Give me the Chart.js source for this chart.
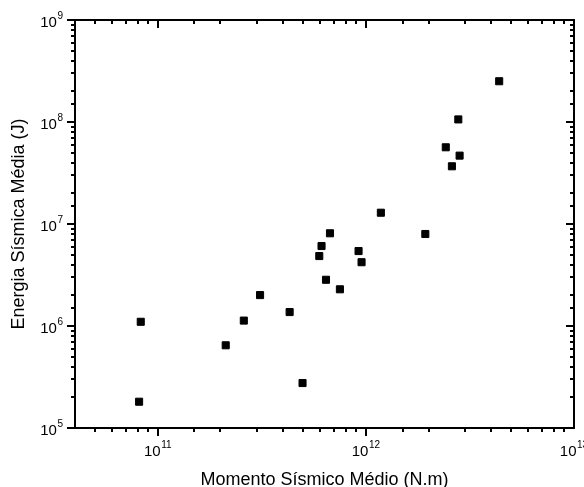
<!DOCTYPE html>
<html>
<head>
<meta charset="utf-8">
<script src="https://cdn.jsdelivr.net/npm/chart.js@4/dist/chart.umd.min.js"></script>
<style>
  body { margin: 0; background: #fff; }
  #chart { display: block; }
</style>
</head>
<body>
<canvas id="chart" width="584" height="487"></canvas>
<script>
// momento sismico medio (N.m)
var momento = [8.28e10, 8.13e10, 2.12e11, 2.59e11, 3.10e11, 4.30e11, 4.96e11,
               5.97e11, 6.12e11, 6.72e11, 6.43e11, 7.50e11, 9.22e11, 9.53e11,
               1.18e12, 1.93e12, 2.42e12, 2.59e12, 2.82e12, 2.78e12, 4.37e12];
// energia sismica media (J)
var energia = [1.10e6, 1.81e5, 6.47e5, 1.13e6, 2.01e6, 1.37e6, 2.76e5,
               4.85e6, 6.08e6, 8.11e6, 2.84e6, 2.29e6, 5.43e6, 4.22e6,
               1.29e7, 7.98e6, 5.65e7, 3.68e7, 4.68e7, 1.06e8, 2.51e8];

var xLimits = [4e10, 1e13];
var yLimits = [1e5, 1e9];
var xTitle = 'Momento Sísmico Médio (N.m)';
var yTitle = 'Energia Sísmica Média (J)';

var FONT = 'Liberation Sans, Arial, sans-serif';

function isDecade(v) {
  var l = Math.log10(v);
  return Math.abs(l - Math.round(l)) < 1e-9;
}

var points = [];
for (var i = 0; i < momento.length; i++) {
  points.push({x: momento[i], y: energia[i]});
}

// draws 10 with a raised exponent, left edge at x0
function drawPow(ctx, v, x0, base) {
  var e = String(Math.round(Math.log10(v)));
  ctx.font = '15px ' + FONT;
  var w1 = ctx.measureText('10').width;
  ctx.fillText('10', x0, base);
  ctx.font = '10px ' + FONT;
  ctx.fillText(e, x0 + w1 + 0.5, base - 8);
}
function powWidth(ctx, v) {
  var e = String(Math.round(Math.log10(v)));
  ctx.font = '15px ' + FONT;
  var w = ctx.measureText('10').width + 0.5;
  ctx.font = '10px ' + FONT;
  return w + ctx.measureText(e).width;
}

// frame with ticks on all four sides plus the power-of-ten labels
var frameTicks = {
  id: 'frameTicks',
  afterDraw: function(chart) {
    var ctx = chart.ctx, a = chart.chartArea;
    var sx = chart.scales.x, sy = chart.scales.y;
    ctx.save();
    ctx.strokeStyle = '#000';
    ctx.lineWidth = 2;
    ctx.beginPath();
    sx.ticks.forEach(function(t) {
      var px = Math.round(sx.getPixelForValue(t.value));
      if (px <= a.left + 1 || px >= a.right - 1) return;
      var len = isDecade(t.value) ? 8 : 4;
      ctx.moveTo(px, a.bottom); ctx.lineTo(px, a.bottom + len);
      ctx.moveTo(px, a.top); ctx.lineTo(px, a.top + len);
    });
    sy.ticks.forEach(function(t) {
      var py = Math.round(sy.getPixelForValue(t.value));
      var len = isDecade(t.value) ? 8 : 4;
      ctx.moveTo(a.left, py); ctx.lineTo(a.left - len, py);
      ctx.moveTo(a.right, py); ctx.lineTo(a.right - len, py);
    });
    ctx.stroke();
    ctx.strokeRect(a.left, a.top, a.right - a.left, a.bottom - a.top);

    ctx.fillStyle = '#000';
    ctx.textBaseline = 'alphabetic';
    ctx.textAlign = 'left';
    sx.ticks.forEach(function(t) {
      if (!isDecade(t.value)) return;
      var px = sx.getPixelForValue(t.value);
      drawPow(ctx, t.value, px - powWidth(ctx, t.value) / 2, a.bottom + 28);
    });
    sy.ticks.forEach(function(t) {
      if (!isDecade(t.value)) return;
      var py = sy.getPixelForValue(t.value);
      drawPow(ctx, t.value, a.left - 12 - powWidth(ctx, t.value), py + 7);
    });
    ctx.restore();
  }
};

var ctx = document.getElementById('chart');
var chart = new Chart(ctx, {
  type: 'scatter',
  data: {
    datasets: [{
      data: points,
      pointStyle: 'rect',
      pointRadius: 5,
      borderWidth: 1,
      backgroundColor: '#000',
      borderColor: '#000'
    }]
  },
  options: {
    responsive: false,
    animation: false,
    layout: { padding: { top: 20, right: 10, left: 0, bottom: 0 } },
    plugins: { legend: { display: false }, tooltip: { enabled: false } },
    scales: {
      x: {
        type: 'logarithmic',
        min: xLimits[0],
        max: xLimits[1],
        grid: { display: false, drawTicks: false },
        border: { display: false },
        ticks: { display: false, autoSkip: false },
        title: {
          display: true, text: xTitle, color: '#000',
          font: { family: FONT, size: 18, lineHeight: 1 },
          padding: { top: 0, bottom: -2 }
        },
        afterFit: function(s) { s.height = 59; s.paddingLeft = 0; s.paddingRight = 0; }
      },
      y: {
        type: 'logarithmic',
        min: yLimits[0],
        max: yLimits[1],
        grid: { display: false, drawTicks: false },
        border: { display: false },
        ticks: { display: false, autoSkip: false },
        title: {
          display: true, text: yTitle, color: '#000',
          font: { family: FONT, size: 18, lineHeight: 1 },
          padding: { top: 10.5, bottom: 0 }
        },
        afterFit: function(s) { s.width = 75; s.paddingTop = 0; s.paddingBottom = 0; }
      }
    }
  },
  plugins: [frameTicks]
});
</script>
</body>
</html>
